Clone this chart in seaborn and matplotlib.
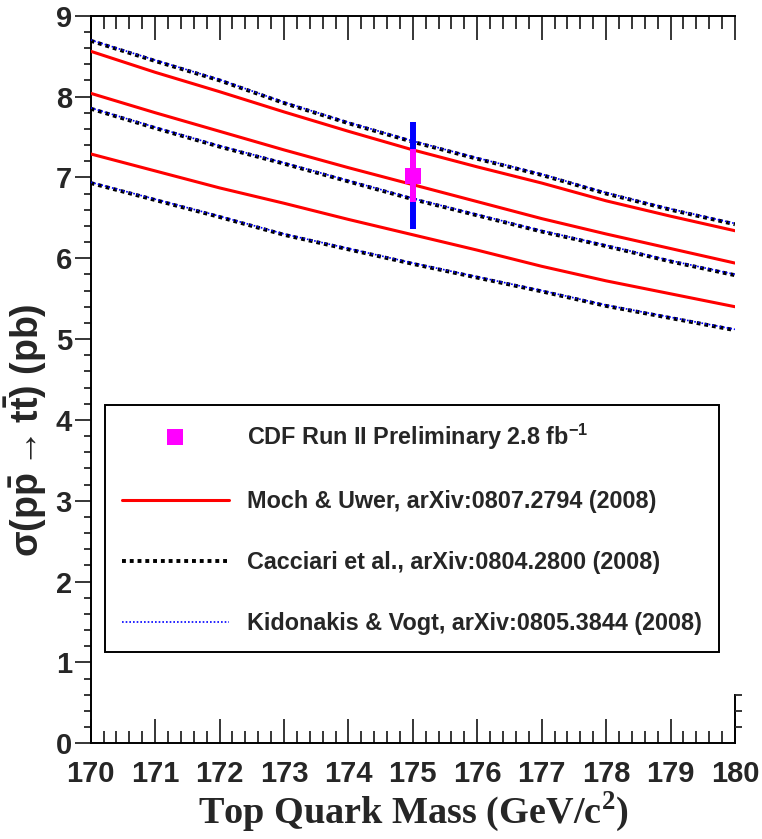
import matplotlib
matplotlib.use("Agg")
import numpy as np
import pandas as pd
import seaborn as sns
import matplotlib.pyplot as plt
from matplotlib.lines import Line2D
from matplotlib.ticker import MultipleLocator

# ---------------- data ----------------
mass = [170, 171, 172, 173, 174, 175, 176, 177, 178, 179, 180]

moch_upper = [8.56, 8.30, 8.06, 7.81, 7.57, 7.34, 7.13, 6.93, 6.71, 6.52, 6.34]
moch_central = [8.04, 7.80, 7.57, 7.34, 7.12, 6.91, 6.70, 6.49, 6.30, 6.12, 5.94]
moch_lower = [7.29, 7.08, 6.87, 6.68, 6.48, 6.29, 6.10, 5.90, 5.72, 5.56, 5.40]

cacciari_upper = [8.69, 8.44, 8.20, 7.92, 7.67, 7.44, 7.23, 7.03, 6.80, 6.60, 6.42]
cacciari_central = [7.85, 7.61, 7.38, 7.17, 6.95, 6.73, 6.53, 6.33, 6.15, 5.96, 5.79]
cacciari_lower = [6.93, 6.72, 6.51, 6.29, 6.11, 5.93, 5.76, 5.59, 5.41, 5.26, 5.11]

kidonakis_upper = [8.70, 8.45, 8.21, 7.93, 7.68, 7.45, 7.24, 7.04, 6.81, 6.61, 6.43]
kidonakis_central = [7.86, 7.62, 7.39, 7.18, 6.96, 6.74, 6.54, 6.34, 6.16, 5.97, 5.80]
kidonakis_lower = [6.94, 6.73, 6.52, 6.30, 6.12, 5.94, 5.77, 5.60, 5.42, 5.27, 5.12]

cdf_mass = [175.0]
cdf_xsec = [7.02]
cdf_stat = [0.33]
cdf_total = [0.66]

labels = ["CDF Run II Preliminary 2.8 fb$^{-1}$",
          "Moch & Uwer, arXiv:0807.2794 (2008)",
          "Cacciari et al., arXiv:0804.2800 (2008)",
          "Kidonakis & Vogt, arXiv:0805.3844 (2008)"]

xticks = [170, 171, 172, 173, 174, 175, 176, 177, 178, 179, 180]
yticks = [0, 1, 2, 3, 4, 5, 6, 7, 8, 9]

# ---------------- style ----------------
sns.set_theme(style="ticks")
plt.rcParams["font.family"] = ["Liberation Sans", "DejaVu Sans"]
plt.rcParams["font.weight"] = "bold"
plt.rcParams["mathtext.fontset"] = "custom"
plt.rcParams["mathtext.rm"] = "Liberation Sans:bold"
plt.rcParams["mathtext.it"] = "Liberation Sans:bold"
plt.rcParams["mathtext.bf"] = "Liberation Sans:bold"
plt.rcParams["mathtext.sf"] = "Liberation Sans:bold"
plt.rcParams["mathtext.fallback"] = "stixsans"

RED = "#ff0000"
BLACK = "#000000"
BLUE = "#0000ff"
MAGENTA = "#ff00ff"

fig = plt.figure(figsize=(7.62, 8.39), dpi=100)
ax = fig.add_axes([0.1190, 0.1141, 0.8455, 0.8672])

# long-format table for seaborn
rows = []
series = [
    ("Moch", "upper", moch_upper), ("Moch", "central", moch_central), ("Moch", "lower", moch_lower),
    ("Cacciari", "upper", cacciari_upper), ("Cacciari", "central", cacciari_central), ("Cacciari", "lower", cacciari_lower),
    ("Kidonakis", "upper", kidonakis_upper), ("Kidonakis", "central", kidonakis_central), ("Kidonakis", "lower", kidonakis_lower),
]
for model, band, vals in series:
    for m, v in zip(mass, vals):
        rows.append({"mass": m, "xsec": v, "model": model, "band": band})
df = pd.DataFrame(rows)

style = {
    "Moch": dict(color=RED, lw=2.2, ls="-", z=3),
    "Cacciari": dict(color=BLACK, lw=2.8, ls=(0, (1.0, 1.0)), z=4),
    "Kidonakis": dict(color=BLUE, lw=1.2, ls=(0, (1.0, 1.2)), z=5),
}
for (model, band), sub in df.groupby(["model", "band"]):
    st = style[model]
    sns.lineplot(data=sub, x="mass", y="xsec", ax=ax, color=st["color"], lw=st["lw"],
                 linestyle=st["ls"], zorder=st["z"], legend=False, estimator=None, sort=True)

# CDF measurement
ax.errorbar(cdf_mass, cdf_xsec, yerr=cdf_total, fmt="none", ecolor=BLUE, elinewidth=4.3,
            capsize=0, zorder=6)
ax.errorbar(cdf_mass, cdf_xsec, yerr=cdf_stat, fmt="none", ecolor=MAGENTA, elinewidth=4.3,
            capsize=0, zorder=7)
sns.scatterplot(x=cdf_mass, y=cdf_xsec, ax=ax, marker="s", s=11.5 ** 2, color=MAGENTA,
                edgecolor=MAGENTA, linewidth=0, zorder=8, legend=False)

# axes
ax.set_xlim(170, 180)
ax.set_ylim(0, 9)
ax.set_xticks(xticks)
ax.set_xticklabels([str(t) for t in xticks])
ax.set_yticks(yticks)
ax.set_yticklabels([str(t) for t in yticks])
ax.xaxis.set_minor_locator(MultipleLocator(0.2))
ax.yaxis.set_minor_locator(MultipleLocator(0.2))

ax.tick_params(axis="x", which="major", direction="in", length=17, width=1.3,
               top=True, bottom=True, labelsize=21, pad=12)
ax.tick_params(axis="x", which="minor", direction="in", length=9, width=1.3,
               top=True, bottom=True)
ax.tick_params(axis="y", which="major", direction="out", length=11.5, width=1.3,
               left=True, right=False, labelsize=21, pad=2)
ax.tick_params(axis="y", which="minor", direction="out", length=5, width=1.3,
               left=True, right=False)
for lab in ax.get_xticklabels() + ax.get_yticklabels():
    lab.set_fontweight("bold")

for s in ["left", "bottom", "top"]:
    ax.spines[s].set_linewidth(1.4)
    ax.spines[s].set_color("black")
ax.spines["right"].set_linewidth(1.4)
ax.spines["right"].set_color("black")
ax.spines["right"].set_bounds(0, 0.6)

# short right-hand tick stub near the bottom
tw = ax.twinx()
tw.set_ylim(0, 9)
tw.set_yticks([0.2, 0.4, 0.6])
tw.set_yticklabels([])
tw.tick_params(axis="y", direction="out", length=5, width=1.3, right=True)
for s in ["left", "bottom", "top", "right"]:
    tw.spines[s].set_visible(False)

ax.set_xlabel("Top Quark Mass (GeV/c$^{\\mathregular{2}}$)", family=["Liberation Serif"],
              fontweight="bold", fontsize=27.5, labelpad=1)
ax.set_ylabel(r"$\sigma(p\bar{p}\rightarrow t\bar{t})$ (pb)", fontsize=27, fontweight="bold")
ax.yaxis.set_label_coords(-0.064, 0.43)

handles = [
    Line2D([], [], ls="none", marker="s", markersize=11.5, color=MAGENTA, markeredgewidth=0),
    Line2D([], [], color=RED, lw=2.2),
    Line2D([], [], color=BLACK, lw=2.8, ls=(0, (1.0, 1.0))),
    Line2D([], [], color=BLUE, lw=1.2, ls=(0, (1.0, 1.2))),
]
leg = ax.legend(handles, labels, loc="upper left", bbox_to_anchor=(0.022, 0.131, 0.954, 0.3335),
                mode="expand", fontsize=16.8, frameon=True, fancybox=False, borderpad=0.72,
                handlelength=4.6, handletextpad=0.77, labelspacing=1.62, borderaxespad=0,
                numpoints=1)
leg.get_frame().set_edgecolor("black")
leg.get_frame().set_linewidth(1.4)
leg.get_frame().set_alpha(1)
for t in leg.get_texts():
    t.set_fontweight("bold")

fig.savefig("out.png", dpi=100)
